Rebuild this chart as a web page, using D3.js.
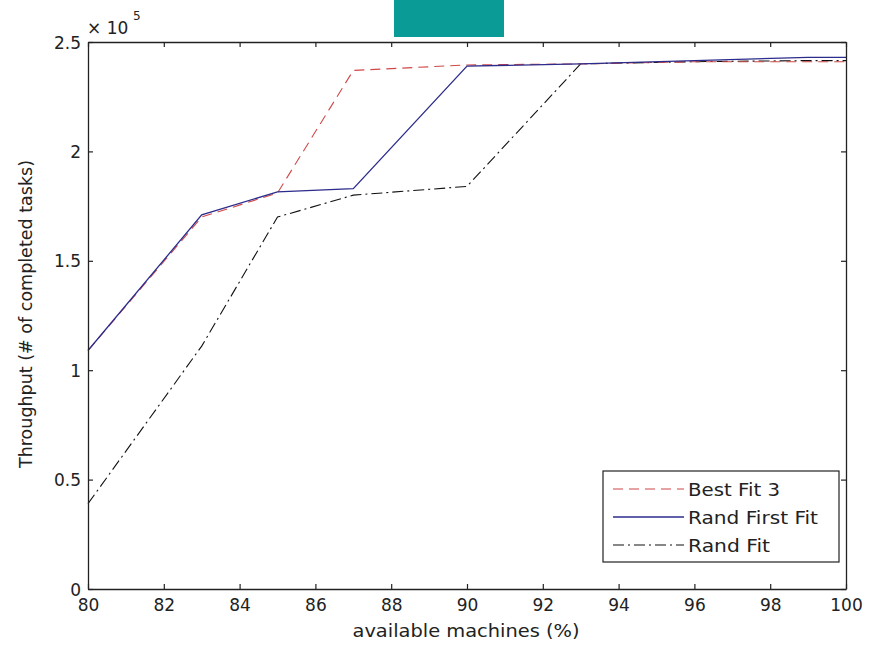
<!DOCTYPE html>
<html>
<head>
<meta charset="utf-8">
<script src="https://cdn.jsdelivr.net/npm/d3@7"></script>
<style>
  html, body { margin: 0; padding: 0; background: #fff; }
  svg { display: block; font-family: "DejaVu Sans", "Liberation Sans", Arial, sans-serif; }
</style>
</head>
<body>
<svg id="chart" width="888" height="645"></svg>
<script>
// ---- data ----
const machines = [80, 83, 85, 87, 90, 93, 96, 99, 100];
const bestFit3 = [109000, 170000, 181000, 237000, 239500, 240000, 241000, 241000, 241000];
const randFirstFit = [109000, 171000, 181500, 183000, 239000, 240000, 241500, 243000, 243000];
const randFit = [39000, 111000, 170000, 180000, 184000, 240000, 241000, 241500, 241500];
const xTicks = [80, 82, 84, 86, 88, 90, 92, 94, 96, 98, 100];
const yTicks = [0, 50000, 100000, 150000, 200000, 250000];
const seriesNames = ["Best Fit 3", "Rand First Fit", "Rand Fit"];

const series = [
  { name: seriesNames[0], values: bestFit3, color: "#d04848", dash: "10,6", width: 1.1, len: 92 },
  { name: seriesNames[1], values: randFirstFit, color: "#2c2c8c", dash: null, width: 1.3, len: 130 },
  { name: seriesNames[2], values: randFit, color: "#111111", dash: "11,4,2,4", width: 1.1, len: 82 }
];

const svg = d3.select("#chart");
const L = 88, R = 846, T = 42, B = 589;
const x = d3.scaleLinear().domain([80, 100]).range([L, R]);
const y = d3.scaleLinear().domain([0, 250000]).range([B, T]);
const axisColor = "#222";
const FS = 17;

// teal block at top
svg.append("rect").attr("x", 394).attr("y", 0).attr("width", 110).attr("height", 37).attr("fill", "#0b9b97");

// plot background
svg.append("rect").attr("x", L).attr("y", T).attr("width", R - L).attr("height", B - T).attr("fill", "#fff");

// lines
const line = d3.line().x((d, i) => x(machines[i])).y(d => y(d));
[2, 0, 1].forEach(k => {
  const s = series[k];
  svg.append("path")
    .datum(s.values)
    .attr("d", line)
    .attr("fill", "none")
    .attr("stroke", s.color)
    .attr("stroke-width", s.width)
    .attr("stroke-dasharray", s.dash);
});

// axes (inner ticks, MATLAB style)
const tickLen = 5;
const fmtY = v => { const t = v / 100000; return t === 0 ? "0" : String(t); };

const gxB = svg.append("g").attr("transform", `translate(0,${B})`)
  .call(d3.axisBottom(x).tickValues(xTicks).tickSizeInner(-tickLen).tickSizeOuter(0).tickPadding(9));
const gxT = svg.append("g").attr("transform", `translate(0,${T})`)
  .call(d3.axisTop(x).tickValues(xTicks).tickSizeInner(-tickLen).tickSizeOuter(0).tickFormat(""));
const gyL = svg.append("g").attr("transform", `translate(${L},0)`)
  .call(d3.axisLeft(y).tickValues(yTicks).tickSizeInner(-tickLen).tickSizeOuter(0).tickPadding(7).tickFormat(fmtY));
const gyR = svg.append("g").attr("transform", `translate(${R},0)`)
  .call(d3.axisRight(y).tickValues(yTicks).tickSizeInner(-tickLen).tickSizeOuter(0).tickFormat(""));

[gxB, gxT, gyL, gyR].forEach(g => {
  g.select(".domain").attr("stroke", axisColor).attr("stroke-width", 1.3);
  g.selectAll(".tick line").attr("stroke", axisColor).attr("stroke-width", 1.2);
  g.selectAll(".tick text").attr("fill", "#222").attr("font-size", FS)
    .attr("font-family", "'DejaVu Sans', sans-serif");
});
gxB.selectAll(".tick text").attr("dy", "0.78em");
gyL.selectAll(".tick text").attr("dy", "0.36em");

// exponent label
svg.append("text").attr("x", 87).attr("y", 34).attr("font-size", FS).attr("fill", "#222").text("× 10");
svg.append("text").attr("x", 133).attr("y", 20).attr("font-size", 12).attr("fill", "#222").text("5");

// axis titles
svg.append("text").attr("x", 466).attr("y", 637).attr("text-anchor", "middle")
  .attr("font-size", FS).attr("fill", "#222")
  .attr("textLength", 227).attr("lengthAdjust", "spacingAndGlyphs")
  .text("available machines (%)");
svg.append("text").attr("transform", `translate(32,314) rotate(-90)`).attr("text-anchor", "middle")
  .attr("font-size", FS).attr("fill", "#222")
  .attr("textLength", 308).attr("lengthAdjust", "spacingAndGlyphs")
  .text("Throughput (# of completed tasks)");

// legend
const lg = svg.append("g");
lg.append("rect").attr("x", 603).attr("y", 471).attr("width", 236).attr("height", 91)
  .attr("fill", "#fff").attr("stroke", axisColor).attr("stroke-width", 1.2);
series.forEach((s, i) => {
  const yy = 489 + i * 28;
  lg.append("line").attr("x1", 613).attr("x2", 684).attr("y1", yy).attr("y2", yy)
    .attr("stroke", s.color).attr("stroke-width", s.width).attr("stroke-dasharray", s.dash);
  lg.append("text").attr("x", 688).attr("y", yy + 7)
    .attr("font-size", FS).attr("fill", "#222")
    .attr("textLength", s.len).attr("lengthAdjust", "spacingAndGlyphs")
    .text(s.name);
});
</script>
</body>
</html>
